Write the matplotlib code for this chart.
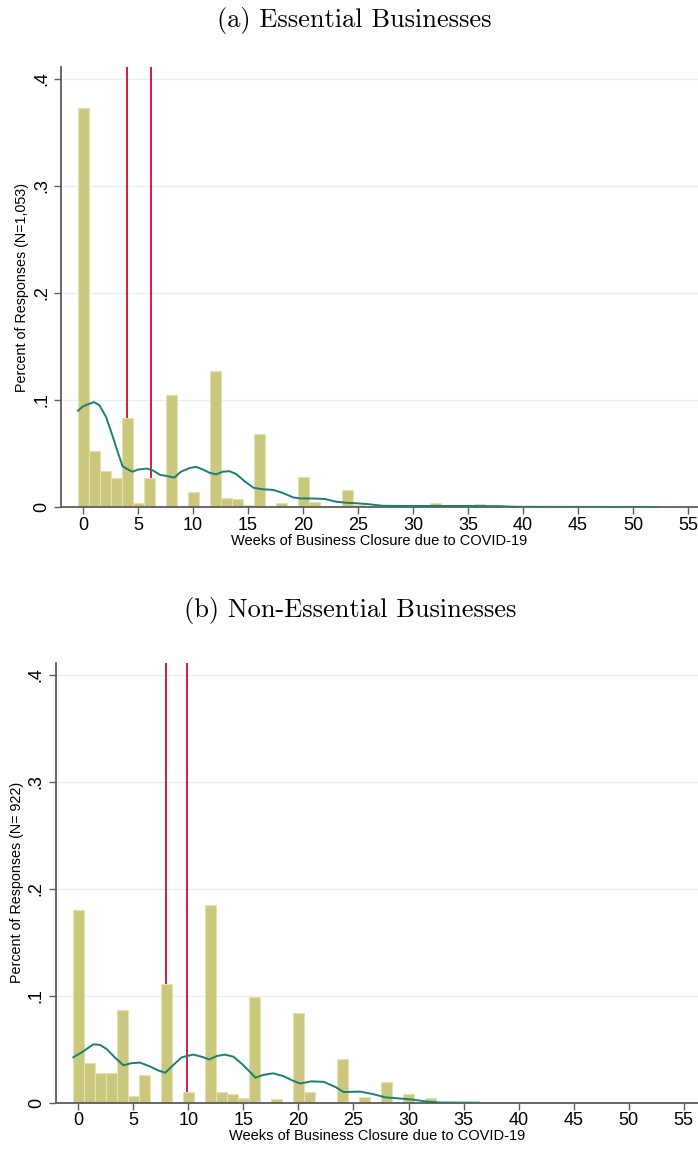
import numpy as np
import matplotlib
matplotlib.use("Agg")
import matplotlib.pyplot as plt

# --- data ---------------------------------------------------------------
weeks_a = [0, 1, 2, 3, 4, 5, 6, 8, 10, 12, 13, 14, 15, 16, 18, 19, 20, 21,
           23, 24, 25, 28, 32, 36, 52]
share_a = [0.373, 0.052, 0.034, 0.027, 0.083, 0.004, 0.0275, 0.105, 0.014,
           0.127, 0.0085, 0.0075, 0.0015, 0.068, 0.004, 0.001, 0.028, 0.005,
           0.001, 0.016, 0.002, 0.001, 0.004, 0.003, 0.001]
kde_x_a = [-0.45, 0, 0.45, 1.0, 1.5, 2.1, 2.7, 3.2, 3.6, 4.1, 4.5, 5.0, 5.8,
           6.4, 7.0, 7.6, 8.3, 8.9, 9.7, 10.3, 10.9, 11.5, 12.1, 12.7, 13.3,
           13.9, 14.7, 15.5, 16.4, 17.3, 18.2, 19.1, 19.8, 20.9, 22.0, 23.0,
           23.9, 24.9, 26.1, 27.2, 28.8, 31.8, 34.9, 37.9, 39.4, 52.4]
kde_y_a = [0.090, 0.094, 0.096, 0.098, 0.095, 0.084, 0.066, 0.050, 0.038,
           0.035, 0.033, 0.035, 0.036, 0.034, 0.030, 0.029, 0.0275, 0.033,
           0.0365, 0.0375, 0.035, 0.032, 0.0305, 0.033, 0.0335, 0.031, 0.024,
           0.018, 0.0165, 0.016, 0.013, 0.009, 0.008, 0.008, 0.0075, 0.005,
           0.004, 0.0035, 0.0025, 0.0012, 0.001, 0.001, 0.001, 0.0008, 0.0002,
           0.0]
vlines_a = [4.03, 6.15]

weeks_b = [0, 1, 2, 3, 4, 5, 6, 7, 8, 9, 10, 12, 13, 14, 15, 16, 18, 20, 21,
           22, 24, 26, 28, 30, 32, 36]
share_b = [0.180, 0.037, 0.028, 0.028, 0.087, 0.006, 0.026, 0.001, 0.111,
           0.001, 0.0097, 0.185, 0.0097, 0.008, 0.004, 0.099, 0.0035, 0.084,
           0.0097, 0.001, 0.041, 0.005, 0.019, 0.008, 0.004, 0.001]
kde_x_b = [-0.45, 0.45, 1.36, 2.0, 2.6, 3.3, 4.1, 4.85, 5.6, 6.5, 7.3, 7.9,
           8.6, 9.4, 10.45, 11.2, 11.9, 12.6, 13.3, 14.1, 15.0, 16.1, 16.8,
           17.7, 18.6, 19.5, 20.15, 21.2, 22.3, 23.4, 24.1, 25.6, 26.8, 27.9,
           29.2, 30.5, 31.7, 32.9, 36.4]
kde_y_b = [0.0425, 0.048, 0.0546, 0.054, 0.050, 0.0425, 0.035, 0.037, 0.0375,
           0.034, 0.030, 0.028, 0.035, 0.0425, 0.045, 0.043, 0.0405, 0.0437,
           0.045, 0.043, 0.035, 0.0234, 0.026, 0.0275, 0.025, 0.0206, 0.018,
           0.020, 0.0195, 0.0145, 0.0100, 0.0104, 0.008, 0.005, 0.004, 0.0028,
           0.001, 0.0002, 0.0]
vlines_b = [7.97, 9.85]

yticks = [0, 0.1, 0.2, 0.3, 0.4]
ytick_labels = ["0", ".1", ".2", ".3", ".4"]
xticks = list(range(0, 60, 5))

BAR_COLOR = "#cbc87e"
BAR_EDGE = "#e2e0b4"
KDE_COLOR = "#1b7f72"
RED = "#d7193f"
SPINE = "#5c5c5c"

plt.rcParams.update({
    "font.family": ["Liberation Sans", "DejaVu Sans"],
})

fig = plt.figure(figsize=(6.98, 11.5), dpi=100)
ax_a = fig.add_axes([0.0874, 0.5591, 0.9126, 0.3826])
ax_b = fig.add_axes([0.0802, 0.0411, 0.9198, 0.3824])


def draw_panel(ax, weeks, share, kx, ky, vlines, ylabel, xlim):
    for v in vlines:
        ax.axvline(v, color=RED, lw=1.4, zorder=1)
    ax.bar(weeks, share, width=1.0, color=BAR_COLOR, edgecolor=BAR_EDGE,
           linewidth=0.8, zorder=2)
    ax.plot(kx, ky, color=KDE_COLOR, lw=1.4, zorder=3)
    ax.set_xlim(*xlim)
    ax.set_ylim(0, 0.411)
    ax.set_yticks(yticks)
    ax.set_yticklabels(ytick_labels, rotation=90, va="center", fontsize=13)
    ax.set_xticks(xticks)
    ax.tick_params(axis="x", labelsize=13, length=5, width=1, color=SPINE,
                   pad=2)
    ax.tick_params(axis="y", length=5, width=1, color=SPINE, pad=3)
    for t in yticks[1:]:
        ax.axhline(t, color="#e8f1f2", lw=1.0, zorder=0)
    for s in ("top", "right"):
        ax.spines[s].set_visible(False)
    for s in ("left", "bottom"):
        ax.spines[s].set_color(SPINE)
        ax.spines[s].set_linewidth(1.3)
    ax.set_xlabel("Weeks of Business Closure due to COVID-19", fontsize=10.5,
                  labelpad=0)
    ax.set_ylabel(ylabel, fontsize=10.3, labelpad=3)


draw_panel(ax_a, weeks_a, share_a, kde_x_a, kde_y_a, vlines_a,
           "Percent of Responses (N=1,053)", (-2.0, 55.9))
draw_panel(ax_b, weeks_b, share_b, kde_x_b, kde_y_b, vlines_b,
           "Percent of Responses (N= 922)", (-2.03, 56.3))

fig.text(0.508, 1 - 21 / 1150, "(a) Essential Businesses", family="cmr10",
         fontsize=19, ha="center", va="center")
fig.text(0.502, 1 - 611 / 1150, "(b) Non-Essential Businesses", family="cmr10",
         fontsize=19, ha="center", va="center")

fig.savefig("out.png", dpi=100)
